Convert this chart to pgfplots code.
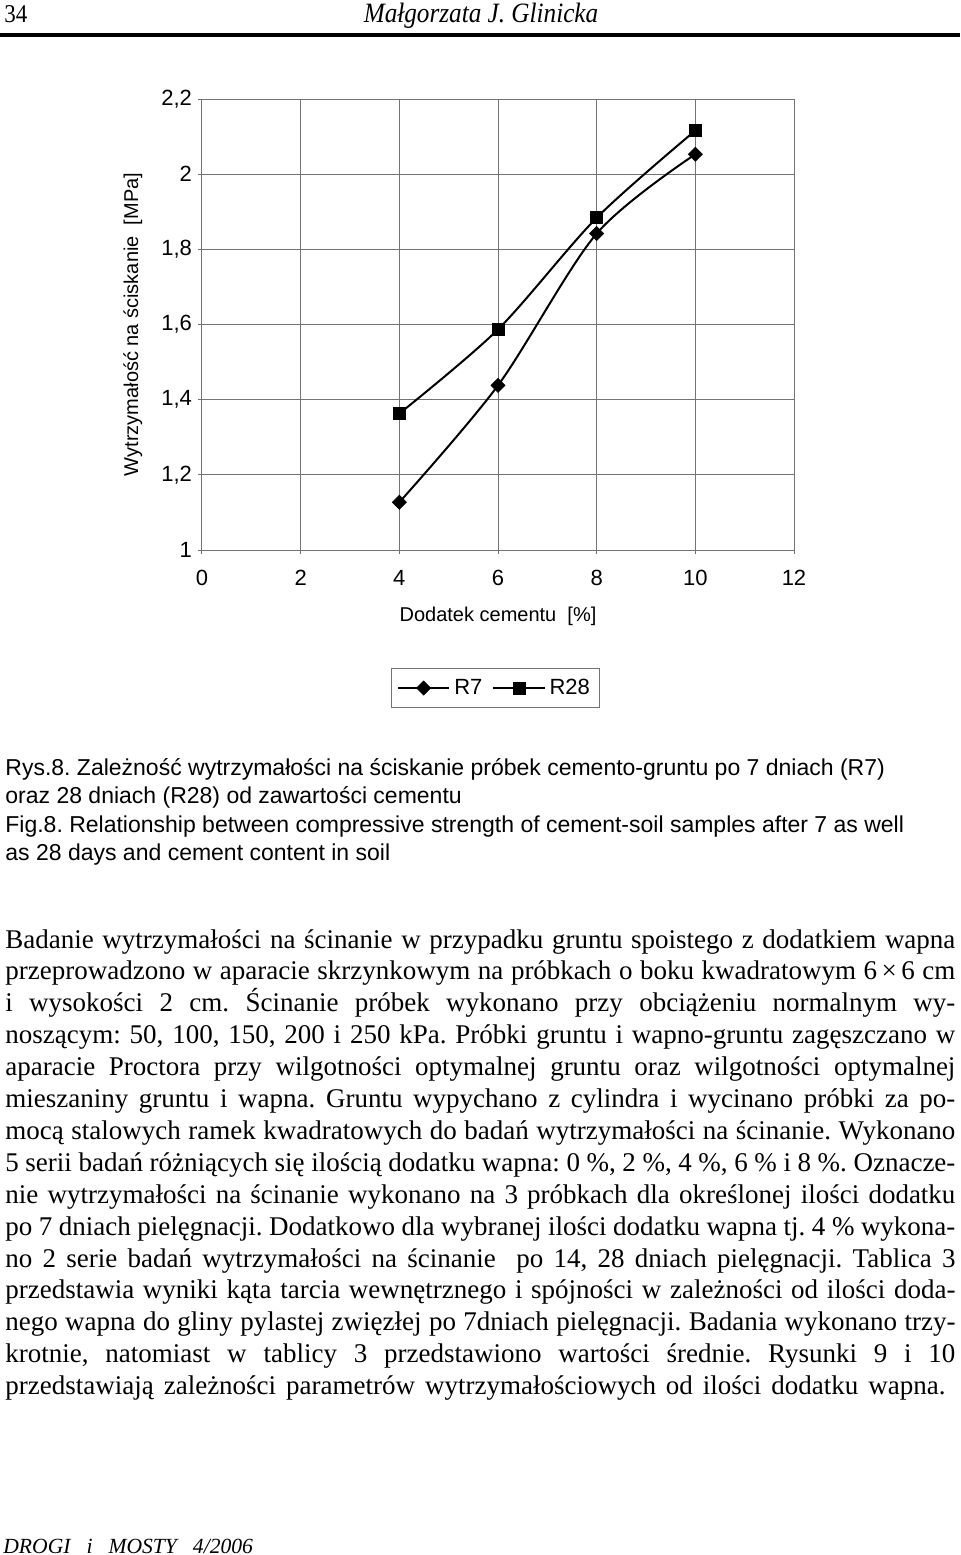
\documentclass[border=0pt]{standalone}
\usepackage{fontspec}
\setmainfont{Liberation Serif}
\setsansfont{Liberation Sans}
\newfontfamily\headfont[FakeStretch=0.9]{Liberation Serif}
\usepackage{pgfplots}
\pgfplotsset{compat=1.18}
\frenchspacing
\newcommand{\bodyline}[2]{\node[anchor=base west, inner sep=0, font=\rmfamily\fontsize{13.5}{15.95}\selectfont] at (2.5pt,-#1pt) {\makebox[475pt][s]{#2}};}
\newcommand{\capline}[2]{\node[anchor=base west, inner sep=0, font=\sffamily\fontsize{11.5}{14}\selectfont] at (2.5pt,-#1pt) {#2};}
\begin{document}
\frenchspacing
\begin{tikzpicture}
\useasboundingbox (0,0) rectangle (480pt,-777.5pt);
% header
\node[anchor=base west, inner sep=0, font=\headfont\fontsize{12.8}{14}\selectfont] at (2pt,-11pt) {34};
\node[anchor=base, inner sep=0, font=\headfont\fontsize{14}{16}\selectfont\itshape] at (240.5pt,-11pt) {Małgorzata J. Glinicka};
\fill[black] (0,-16.5pt) rectangle (480pt,-18.5pt);
\begin{axis}[
  at={(101pt,-275pt)}, anchor=south west,
  scale only axis, width=296pt, height=225.5pt,
  xmin=0, xmax=12, ymin=1, ymax=2.2,
  xtick={0,2,4,6,8,10,12}, ytick={1,1.2,1.4,1.6,1.8,2,2.2},
  xtick pos=left, ytick pos=left,
  tick align=outside, major tick length=2pt,
  tick style={gray!90!black, line width=0.5pt},
  grid=major, grid style={gray!90!black, line width=0.5pt},
  axis line style={gray!90!black, line width=0.5pt},
  /pgf/number format/assume math mode=true,
  /pgf/number format/use comma,
  /pgf/number format/fixed,
  ticklabel style={font=\sffamily\fontsize{11}{13}\selectfont},
  xticklabel style={yshift=-4.5pt},
  yticklabel style={xshift=0.5pt},
  xlabel={Dodatek cementu\ \ [\%]},
  ylabel={Wytrzymałość na ściskanie\ \ [MPa]},
  label style={font=\sffamily\fontsize{10}{12}\selectfont},
  xlabel style={at={(axis description cs:0.5,-0.147)}, anchor=center},
  ylabel style={at={(axis description cs:-0.117,0.5)}, anchor=center},
  legend columns=2,
  legend style={at={(axis description cs:0.4958,-0.306)}, anchor=center,
    draw=gray!90!black, line width=0.5pt, font=\sffamily\fontsize{11}{13}\selectfont,
    inner xsep=3pt, inner ysep=3pt,
    /tikz/every even column/.append style={column sep=3pt}},
  legend image code/.code={\draw[mark repeat=2,mark phase=2,#1] plot coordinates {(0cm,0cm) (0.45cm,0cm) (0.9cm,0cm)};},
]
\addplot[black, line width=1pt, smooth, mark=square*, mark options={rotate=45, mark size=2.5pt, line width=0.3pt}]
  coordinates {(4,1.127) (6,1.438) (8,1.842) (10,2.053)};
\addlegendentry{R7}
\addplot[black, line width=1pt, smooth, mark=square*, mark options={mark size=3pt, line width=0.3pt}]
  coordinates {(4,1.363) (6,1.587) (8,1.884) (10,2.116)};
\addlegendentry{R28}
\end{axis}
% caption
\capline{387.5}{Rys.8. Zależność wytrzymałości na ściskanie próbek cemento-gruntu po 7 dniach (R7)}
\capline{401.75}{oraz 28 dniach (R28) od zawartości cementu}
\capline{416}{Fig.8. Relationship between compressive strength of cement-soil samples after 7 as well}
\capline{430.25}{as 28 days and cement content in soil}
% body
\bodyline{474}{Badanie wytrzymałości na ścinanie w przypadku gruntu spoistego z dodatkiem wapna}
\bodyline{489.95}{przeprowadzono w aparacie skrzynkowym na próbkach o boku kwadratowym 6\,×\,6 cm}
\bodyline{505.9}{i wysokości 2 cm. Ścinanie próbek wykonano przy obciążeniu normalnym wy-}
\bodyline{521.85}{noszącym: 50, 100, 150, 200 i 250 kPa. Próbki gruntu i wapno-gruntu zagęszczano w}
\bodyline{537.8}{aparacie Proctora przy wilgotności optymalnej gruntu oraz wilgotności optymalnej}
\bodyline{553.75}{mieszaniny gruntu i wapna. Gruntu wypychano z cylindra i wycinano próbki za po-}
\bodyline{569.7}{mocą stalowych ramek kwadratowych do badań wytrzymałości na ścinanie. Wykonano}
\bodyline{585.65}{5 serii badań różniących się ilością dodatku wapna: 0 \%, 2 \%, 4 \%, 6 \% i 8 \%. Oznacze-}
\bodyline{601.6}{nie wytrzymałości na ścinanie wykonano na 3 próbkach dla określonej ilości dodatku}
\bodyline{617.55}{po 7 dniach pielęgnacji. Dodatkowo dla wybranej ilości dodatku wapna tj. 4 \% wykona-}
\bodyline{633.5}{no 2 serie badań wytrzymałości na ścinanie \ po 14, 28 dniach pielęgnacji. Tablica 3}
\bodyline{649.45}{przedstawia wyniki kąta tarcia wewnętrznego i spójności w zależności od ilości doda-}
\bodyline{665.4}{nego wapna do gliny pylastej zwięzłej po 7dniach pielęgnacji. Badania wykonano trzy-}
\bodyline{681.35}{krotnie, natomiast w tablicy 3 przedstawiono wartości średnie. Rysunki 9 i 10}
\node[anchor=base west, inner sep=0, font=\rmfamily\fontsize{13.5}{15.95}\selectfont] at (2.5pt,-697.3pt) {\makebox[470pt][s]{przedstawiają zależności parametrów wytrzymałościowych od ilości dodatku wapna.}};
% footer
\node[anchor=base west, inner sep=0, font=\fontsize{10.8}{12}\selectfont\itshape] at (1.5pt,-776.5pt) {DROGI\hspace{8pt}i\hspace{8pt}MOSTY\hspace{8pt}4/2006};
\end{tikzpicture}
\end{document}
